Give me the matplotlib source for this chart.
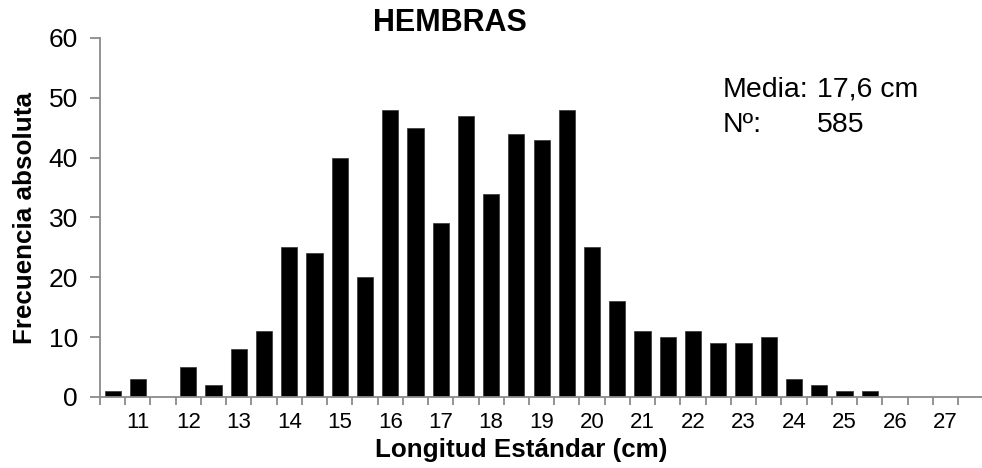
import numpy as np
import matplotlib
matplotlib.use('Agg')
import matplotlib.pyplot as plt

plt.rcParams['font.family'] = ['Liberation Sans', 'DejaVu Sans']

# longitud estandar (cm) y frecuencia absoluta
longitudes = [10.5, 11, 11.5, 12, 12.5, 13, 13.5, 14, 14.5, 15, 15.5, 16, 16.5,
              17, 17.5, 18, 18.5, 19, 19.5, 20, 20.5, 21, 21.5, 22, 22.5, 23,
              23.5, 24, 24.5, 25, 25.5, 26, 26.5, 27]
frecuencia = [1, 3, 0, 5, 2, 8, 11, 25, 24, 40, 20, 48, 45, 29, 47, 34, 44, 43,
              48, 25, 16, 11, 10, 11, 9, 9, 10, 3, 2, 1, 1, 0, 0, 0]
y_ticks = [0, 10, 20, 30, 40, 50, 60]

gris = '#8a8a8a'

fig = plt.figure(figsize=(9.82, 4.68), dpi=100)
ax = fig.add_axes([100/982, 1-397/468, 1-100/982, (397-38)/468])

x = np.arange(len(longitudes))
ax.bar(x, frecuencia, width=0.64, color='black', edgecolor='#333333', linewidth=0.5)

ax.set_xlim(-0.5, len(longitudes) + 0.45)
ax.set_ylim(0, 60)
ax.set_yticks(y_ticks)

# etiquetas solo en los enteros
pos = [i for i, l in enumerate(longitudes) if l == int(l)]
ax.set_xticks(pos)
ax.set_xticklabels([str(int(longitudes[i])) for i in pos])
ax.set_xticks(np.arange(len(longitudes) + 1) - 0.5, minor=True)
ax.tick_params(axis='x', which='major', length=0, pad=11, labelsize=16)
ax.tick_params(axis='x', which='minor', length=6, width=1.3, color=gris)
ax.tick_params(axis='y', length=7, width=1.3, color=gris, pad=9, labelsize=19)

for s in ['top', 'right']:
    ax.spines[s].set_visible(False)
for s in ['left', 'bottom']:
    ax.spines[s].set_color(gris)
    ax.spines[s].set_linewidth(1.3)

fig.text(450/982, 1-31/468, 'HEMBRAS', ha='center', va='baseline', fontsize=22, fontweight='bold')
fig.text(521/982, 1-457/468, 'Longitud Estándar (cm)', ha='center', va='baseline', fontsize=18.7, fontweight='bold')
fig.text(25/982, 1-218/468, 'Frecuencia absoluta', ha='center', va='center', rotation=90, fontsize=18.7, fontweight='bold')

fig.text(723/982, 1-97/468, 'Media:', ha='left', va='baseline', fontsize=20.5)
fig.text(817/982, 1-97/468, '17,6 cm', ha='left', va='baseline', fontsize=20.5)
fig.text(723/982, 1-132/468, 'Nº:', ha='left', va='baseline', fontsize=20.5)
fig.text(817/982, 1-132/468, '585', ha='left', va='baseline', fontsize=20.5)

fig.savefig('out.png', dpi=100)
